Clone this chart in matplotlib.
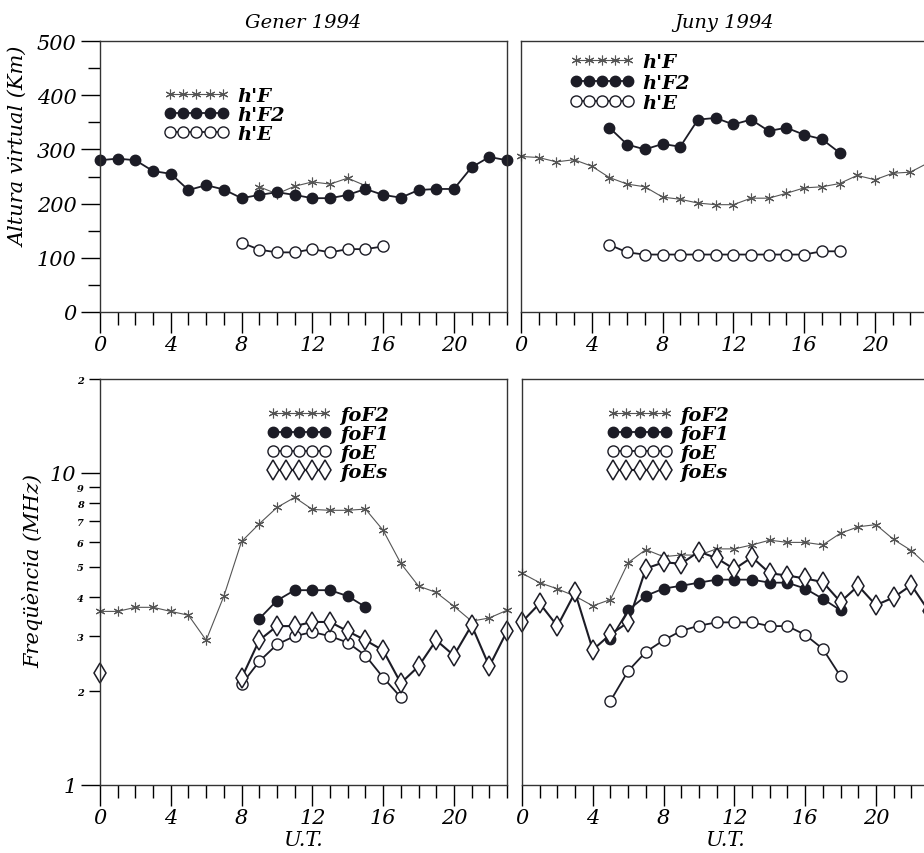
import numpy as np
import matplotlib
matplotlib.use("Agg")
import matplotlib.pyplot as plt
from matplotlib.ticker import FixedLocator, FixedFormatter, MultipleLocator

nan = np.nan
hours = np.arange(24)

# Gener 1994 - virtual heights (km)
gen_hF = [nan] * 9 + [231, 218, 232, 240, 236, 247, 233] + [nan] * 8
gen_hF2 = [280, 283, 280, 260, 255, 225, 234, 226, 210, 216, 221, 216,
           210, 210, 216, 227, 216, 211, 225, 227, 227, 267, 286, 280]
gen_hE = [nan] * 8 + [128, 115, 110, 110, 116, 110, 116, 116, 121] + [nan] * 7

# Juny 1994 - virtual heights (km)
jun_hF = [287, 285, 277, 281, 269, 248, 236, 231, 212, 208, 201, 198,
          198, 210, 210, 219, 229, 231, 237, 252, 244, 256, 258, 275]
jun_hF2 = [nan] * 5 + [340, 309, 300, 310, 305, 355, 358, 346, 355, 334,
                       340, 327, 319, 294] + [nan] * 5
jun_hE = [nan] * 5 + [124, 110, 106, 106, 106, 106, 106, 106, 106, 106,
                      106, 106, 112, 112] + [nan] * 5

# Gener 1994 - critical frequencies (MHz)
gen_foF2 = [3.6, 3.6, 3.71, 3.71, 3.6, 3.5, 2.91, 4.03, 6.03, 6.87, 7.75, 8.35,
            7.64, 7.59, 7.59, 7.66, 6.55, 5.13, 4.34, 4.14, 3.74, 3.35, 3.43, 3.63]
gen_foF1 = [nan] * 9 + [3.41, 3.90, 4.21, 4.21, 4.21, 4.03, 3.72] + [nan] * 8
gen_foE = [nan] * 8 + [2.10, 2.49, 2.82, 3.0, 3.09, 3.0, 2.86, 2.60, 2.21, 1.91] + [nan] * 6
gen_foEs = [2.29] + [nan] * 7 + [2.20, 2.91, 3.23, 3.23, 3.33, 3.33, 3.11, 2.91,
                                 2.70, 2.12, 2.40, 2.91, 2.60, 3.25, 2.40, 3.11]

# Juny 1994 - critical frequencies (MHz)
jun_foF2 = [4.77, 4.45, 4.25, 4.03, 3.75, 3.93, 5.16, 5.68, 5.39, 5.46, 5.45, 5.71,
            5.71, 5.88, 6.09, 5.99, 5.99, 5.88, 6.41, 6.72, 6.83, 6.12, 5.64, 5.0]
jun_foF1 = [nan] * 5 + [2.93, 3.63, 4.04, 4.26, 4.35, 4.45, 4.55, 4.55, 4.55,
                        4.45, 4.45, 4.26, 3.95, 3.63] + [nan] * 5
jun_foE = [nan] * 5 + [1.86, 2.32, 2.67, 2.91, 3.12, 3.24, 3.32, 3.32, 3.32,
                       3.23, 3.23, 3.03, 2.73, 2.23] + [nan] * 5
jun_foEs = [3.33, 3.82, 3.23, 4.14, 2.71, 3.04, 3.32, 4.94, 5.17, 5.12, 5.60, 5.33,
            4.92, 5.37, 4.77, 4.69, 4.59, 4.47, 3.86, 4.35, 3.77, 3.99, 4.37, 3.6]

titles = ["Gener 1994", "Juny 1994"]
height_labels = ["h'F", "h'F2", "h'E"]
freq_labels = ["foF2", "foF1", "foE", "foEs"]

plt.rcParams["font.family"] = "DejaVu Serif"
plt.rcParams["font.style"] = "italic"

INK = "#1c1c26"
STAR = dict(color="#555555", lw=0.8, marker=(6, 2, 0), ms=7, mew=0.8)
FULL = dict(color=INK, lw=1.3, marker="o", ms=7.5, mfc=INK, mec=INK)
OPEN = dict(color=INK, lw=1.3, marker="o", ms=8, mfc="white", mec=INK, mew=1.0)
DIAM = dict(color=INK, lw=1.5, marker="d", ms=10, mfc="white", mec=INK, mew=1.1)

W, H = 924, 854
fig = plt.figure(figsize=(W / 100, H / 100), dpi=100)


def px_axes(x0, y0, x1, y1):
    return fig.add_axes([x0 / W, 1 - y1 / H, (x1 - x0) / W, (y1 - y0) / H])


ax_tl = px_axes(100, 42, 507, 313)
ax_tr = px_axes(521, 42, 928, 313)
ax_bl = px_axes(100, 380, 507, 786)
ax_br = px_axes(522, 380, 929, 786)

leg_font = dict(family="DejaVu Serif", style="italic", weight="bold", size=14)
leg_opts = dict(loc="upper left", frameon=False, numpoints=5, handlelength=3.3,
                handletextpad=0.45, borderpad=0, borderaxespad=0, prop=leg_font)

# height panels
for ax, data, title, anchor, spacing in [
    (ax_tl, (gen_hF, gen_hF2, gen_hE), titles[0], (0.158, 0.83), 0.05),
    (ax_tr, (jun_hF, jun_hF2, jun_hE), titles[1], (0.12, 0.955), 0.12),
]:
    ax.plot(hours, data[0], label=height_labels[0], clip_on=False, **STAR)
    ax.plot(hours, data[1], label=height_labels[1], clip_on=False, **FULL)
    ax.plot(hours, data[2], label=height_labels[2], clip_on=False, **OPEN)
    ax.set_ylim(0, 500)
    ax.set_title(title, fontsize=14, pad=10)
    ax.legend(bbox_to_anchor=anchor, labelspacing=spacing, **leg_opts)

ax_tl.yaxis.set_major_locator(MultipleLocator(100))
ax_tl.yaxis.set_minor_locator(MultipleLocator(50))
ax_tl.tick_params(axis="y", which="major", length=14, labelsize=15, pad=3)
ax_tl.tick_params(axis="y", which="minor", length=9)
ax_tr.tick_params(axis="y", which="both", left=False, labelleft=False)

# frequency panels
for ax, data, anchor in [
    (ax_bl, (gen_foF2, gen_foF1, gen_foE, gen_foEs), (0.41, 0.933)),
    (ax_br, (jun_foF2, jun_foF1, jun_foE, jun_foEs), (0.21, 0.933)),
]:
    ax.plot(hours, data[0], label=freq_labels[0], clip_on=False, **STAR)
    ax.plot(hours, data[1], label=freq_labels[1], clip_on=False, **FULL)
    ax.plot(hours, data[2], label=freq_labels[2], clip_on=False, **OPEN)
    ax.plot(hours, data[3], label=freq_labels[3], clip_on=False, **DIAM)
    ax.set_yscale("log")
    ax.set_ylim(1, 20)
    ax.legend(bbox_to_anchor=anchor, labelspacing=0.05, **leg_opts)

ax_bl.yaxis.set_major_locator(FixedLocator([1, 10]))
ax_bl.yaxis.set_major_formatter(FixedFormatter(["1", "10"]))
minor_vals = [2, 3, 4, 5, 6, 7, 8, 9, 20]
ax_bl.yaxis.set_minor_locator(FixedLocator(minor_vals))
ax_bl.yaxis.set_minor_formatter(FixedFormatter([str(v)[0] for v in minor_vals]))
ax_bl.tick_params(axis="y", which="major", length=14, labelsize=15, pad=3)
ax_bl.tick_params(axis="y", which="minor", length=8, labelsize=7, pad=4)
for lbl in ax_bl.get_yticklabels(minor=True):
    lbl.set_fontweight("bold")
ax_br.yaxis.set_major_locator(FixedLocator([1, 10]))
ax_br.yaxis.set_minor_locator(FixedLocator(minor_vals))
ax_br.tick_params(axis="y", which="both", left=False, labelleft=False)

for ax in (ax_tl, ax_tr, ax_bl, ax_br):
    ax.set_xlim(0, 23)
    ax.xaxis.set_major_locator(MultipleLocator(4))
    ax.xaxis.set_minor_locator(MultipleLocator(1))
    ax.tick_params(axis="x", which="major", length=15, labelsize=15, pad=1.5, width=1)
    ax.tick_params(axis="x", which="minor", length=9, width=1)
    ax.tick_params(axis="y", which="both", width=1)
    for sp in ax.spines.values():
        sp.set_linewidth(1.0)
        sp.set_color("#333333")

fig.text(19 / W, 1 - 147 / H, "Altura virtual (Km)", rotation=90,
         ha="center", va="center", fontsize=15)
fig.text(33 / W, 1 - 571 / H, "Freqüència (MHz)", rotation=90,
         ha="center", va="center", fontsize=15)
fig.text(303 / W, 1 - 841 / H, "U.T.", ha="center", va="center", fontsize=15)
fig.text(725 / W, 1 - 841 / H, "U.T.", ha="center", va="center", fontsize=15)

fig.savefig("out.png", dpi=100)
